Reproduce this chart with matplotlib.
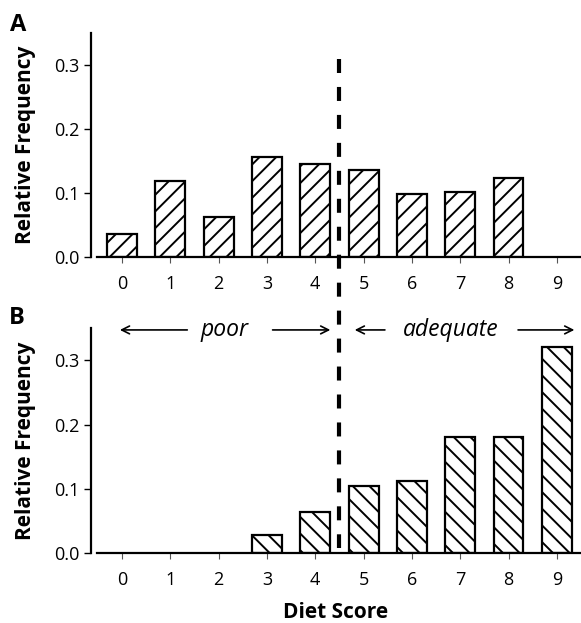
import matplotlib
matplotlib.use("Agg")
import matplotlib.pyplot as plt
from matplotlib.lines import Line2D

plt.rcParams['font.family'] = ['Open Sans', 'DejaVu Sans']
plt.rcParams['hatch.linewidth'] = 1.4

scores = [0, 1, 2, 3, 4, 5, 6, 7, 8, 9]
freq_a = [0.036, 0.118, 0.063, 0.157, 0.146, 0.136, 0.098, 0.101, 0.124, 0.0]
freq_b = [0.0, 0.0, 0.0, 0.0285, 0.064, 0.105, 0.112, 0.180, 0.181, 0.321]
yticks = [0.0, 0.1, 0.2, 0.3]
ytick_labels = ['0.0', '0.1', '0.2', '0.3']
cutoff = 4.5

fig = plt.figure(figsize=(5.81, 6.23), dpi=100)
W, H = 581, 623
axA = fig.add_axes([91 / W, 1 - 257 / H, (581 - 91) / W, (257 - 33) / H])
axB = fig.add_axes([91 / W, 1 - 553.3 / H, (581 - 91) / W, (553.3 - 328) / H])

for ax, vals, hatch in [(axA, freq_a, '//'), (axB, freq_b, '\\\\')]:
    for x, v in zip(scores, vals):
        if v > 0:
            ax.bar(x, v, width=0.62, facecolor='white', edgecolor='black',
                   linewidth=1.6, hatch=hatch, zorder=2)
    ax.set_xlim(-0.64, 9.5)
    ax.set_ylim(0, 0.35)
    ax.set_yticks(yticks)
    ax.set_yticklabels(ytick_labels)
    ax.set_xticks(scores)
    ax.set_xticklabels([str(s) for s in scores])
    for s in ['top', 'right']:
        ax.spines[s].set_visible(False)
    for s in ['left', 'bottom']:
        ax.spines[s].set_linewidth(1.6)
    ax.spines['bottom'].set_bounds(-0.52, 9.5)
    ax.tick_params(axis='y', length=5, width=1.0, labelsize=13, pad=3)
    ax.tick_params(axis='x', length=4, width=0.8, color='#555555', labelsize=13, pad=9)
    ax.set_ylabel('Relative Frequency', fontsize=15, fontweight='bold', labelpad=13)

axB.set_xlabel('Diet Score', fontsize=15, fontweight='bold', labelpad=9)

# dashed cutoff line spanning both panels
xA_disp = axA.transData.transform((cutoff, 0))[0]
xf = xA_disp / W
fig.add_artist(Line2D([xf, xf], [1 - 59 / H, 1 - 548 / H], transform=fig.transFigure,
                      color='black', linewidth=3, solid_capstyle='butt',
                      dash_capstyle='butt', linestyle=(0, (3.36, 3.35))))

# annotations in panel B
ya = 0.347
arrowkw = dict(arrowstyle='->', color='black', lw=1.2, mutation_scale=14)
axB.annotate('', xy=(-0.1, ya), xytext=(1.41, ya), arrowprops=arrowkw, annotation_clip=False)
axB.annotate('', xy=(4.37, ya), xytext=(3.06, ya), arrowprops=arrowkw, annotation_clip=False)
axB.text(2.13, ya, 'poor', style='italic', fontsize=16.5, ha='center', va='center', clip_on=False)
axB.annotate('', xy=(4.76, ya), xytext=(5.5, ya), arrowprops=arrowkw, annotation_clip=False)
axB.annotate('', xy=(9.42, ya), xytext=(8.14, ya), arrowprops=arrowkw, annotation_clip=False)
axB.text(6.81, ya, 'adequate', style='italic', fontsize=16.5, ha='center', va='center', clip_on=False)

fig.text(10 / W, 1 - 25 / H, 'A', fontsize=17, fontweight='bold', va='center', ha='left')
fig.text(9 / W, 1 - 318 / H, 'B', fontsize=17, fontweight='bold', va='center', ha='left')

fig.savefig('out.png', dpi=100)
